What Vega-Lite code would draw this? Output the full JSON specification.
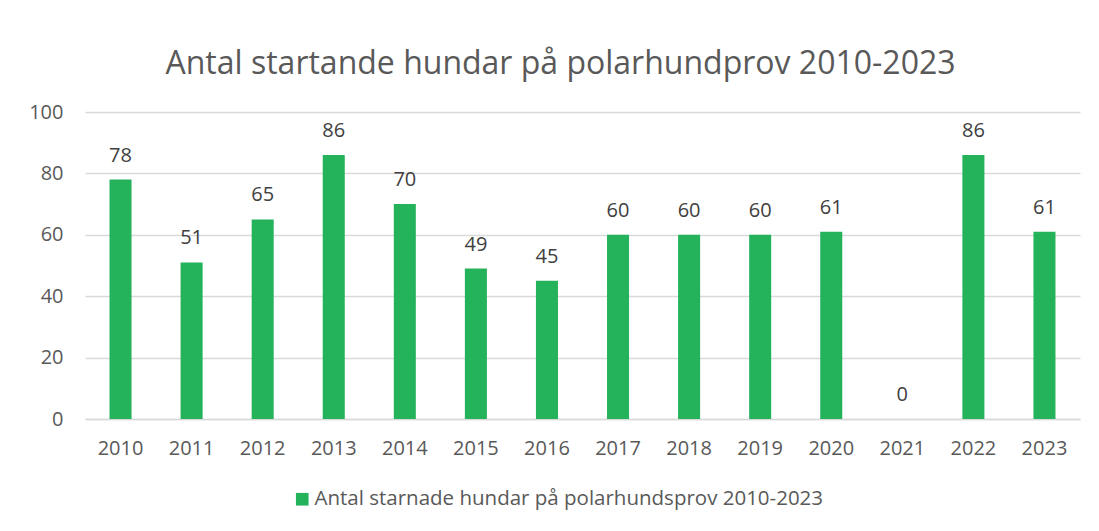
{
  "$schema": "https://vega.github.io/schema/vega-lite/v6.json",
  "autosize": {"type": "none"},
  "width": 995,
  "height": 307,
  "padding": {"left": 85, "top": 112, "right": 19, "bottom": 112},
  "background": "white",
  "config": {
    "font": "Open Sans",
    "view": {"stroke": null}
  },
  "title": {
    "text": "Antal startande hundar på polarhundprov 2010-2023",
    "fontSize": 32,
    "fontWeight": "normal",
    "color": "#595959",
    "anchor": "middle",
    "dx": -22,
    "offset": 21
  },
  "data": {
    "values": [
      {"year": "2010", "value": 78},
      {"year": "2011", "value": 51},
      {"year": "2012", "value": 65},
      {"year": "2013", "value": 86},
      {"year": "2014", "value": 70},
      {"year": "2015", "value": 49},
      {"year": "2016", "value": 45},
      {"year": "2017", "value": 60},
      {"year": "2018", "value": 60},
      {"year": "2019", "value": 60},
      {"year": "2020", "value": 61},
      {"year": "2021", "value": 0},
      {"year": "2022", "value": 86},
      {"year": "2023", "value": 61}
    ]
  },
  "encoding": {
    "x": {
      "field": "year",
      "type": "ordinal",
      "scale": {"paddingInner": 0.69, "paddingOuter": 0.345},
      "axis": {
        "title": null,
        "labelAngle": 0,
        "labelFontSize": 20,
        "labelColor": "#595959",
        "labelPadding": 19,
        "ticks": false,
        "domainColor": "#d9d9d9",
        "domainWidth": 1.5
      }
    },
    "y": {
      "field": "value",
      "type": "quantitative",
      "scale": {"domain": [0, 100]},
      "axis": {
        "title": null,
        "values": [0, 20, 40, 60, 80, 100],
        "labelFontSize": 20,
        "labelColor": "#595959",
        "labelPadding": 22,
        "ticks": false,
        "domain": false,
        "gridColor": "#d9d9d9",
        "gridWidth": 1.5
      }
    }
  },
  "layer": [
    {
      "mark": {"type": "bar", "color": "#24B25B"},
      "encoding": {
        "color": {
          "datum": "Antal starnade hundar på polarhundsprov 2010-2023",
          "type": "nominal",
          "scale": {"range": ["#24B25B"]},
          "legend": {
            "title": null,
            "orient": "none",
            "legendX": 207,
            "legendY": 377,
            "symbolType": "square",
            "symbolSize": 160,
            "symbolStrokeWidth": 0,
            "labelFontSize": 20.5,
            "labelColor": "#595959",
            "labelOffset": 2,
            "labelLimit": 800
          }
        }
      }
    },
    {
      "mark": {"type": "text", "baseline": "bottom", "dy": -14, "fontSize": 20, "color": "#404040"},
      "encoding": {
        "text": {"field": "value", "type": "quantitative"}
      }
    }
  ]
}
